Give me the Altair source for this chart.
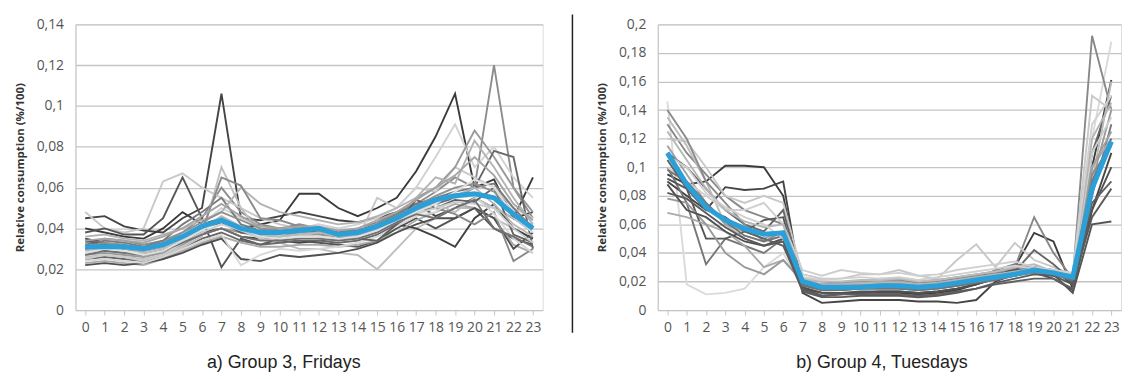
import altair as alt
import pandas as pd

hours = list(range(24))

# ---------------- Panel a) Group 3, Fridays ----------------
a_mean = [0.031, 0.031, 0.031, 0.030, 0.032, 0.036, 0.041, 0.044, 0.040, 0.038, 0.038, 0.039,
          0.040, 0.037, 0.038, 0.041, 0.045, 0.050, 0.054, 0.056, 0.057, 0.055, 0.047, 0.040]

a01 = [0.045, 0.046, 0.041, 0.039, 0.038, 0.045, 0.050, 0.106, 0.045, 0.044, 0.046, 0.048, 0.046, 0.044, 0.043, 0.045, 0.048, 0.052, 0.046, 0.050, 0.055, 0.050, 0.045, 0.048]
a02 = [0.040, 0.038, 0.036, 0.035, 0.040, 0.048, 0.042, 0.045, 0.040, 0.042, 0.044, 0.057, 0.057, 0.050, 0.046, 0.050, 0.055, 0.068, 0.085, 0.106, 0.060, 0.064, 0.045, 0.065]
a03 = [0.033, 0.035, 0.034, 0.032, 0.034, 0.038, 0.045, 0.060, 0.048, 0.042, 0.040, 0.042, 0.040, 0.038, 0.040, 0.043, 0.048, 0.052, 0.058, 0.065, 0.060, 0.120, 0.060, 0.045]
a04 = [0.048, 0.040, 0.038, 0.040, 0.063, 0.067, 0.060, 0.055, 0.050, 0.045, 0.042, 0.040, 0.038, 0.036, 0.035, 0.055, 0.050, 0.060, 0.058, 0.070, 0.065, 0.060, 0.050, 0.045]
a05 = [0.038, 0.040, 0.037, 0.037, 0.045, 0.065, 0.045, 0.021, 0.035, 0.032, 0.035, 0.034, 0.033, 0.032, 0.031, 0.034, 0.040, 0.045, 0.040, 0.045, 0.050, 0.040, 0.035, 0.032]
a06 = [0.028, 0.030, 0.030, 0.028, 0.030, 0.035, 0.040, 0.045, 0.040, 0.036, 0.033, 0.030, 0.030, 0.028, 0.027, 0.020, 0.030, 0.040, 0.045, 0.050, 0.050, 0.045, 0.040, 0.035]
a07 = [0.035, 0.033, 0.030, 0.030, 0.032, 0.035, 0.038, 0.040, 0.036, 0.035, 0.034, 0.033, 0.034, 0.035, 0.036, 0.040, 0.042, 0.040, 0.036, 0.031, 0.045, 0.052, 0.040, 0.035]
a08 = [0.030, 0.032, 0.031, 0.030, 0.033, 0.037, 0.042, 0.050, 0.045, 0.040, 0.038, 0.040, 0.042, 0.040, 0.042, 0.045, 0.050, 0.060, 0.075, 0.091, 0.070, 0.080, 0.065, 0.055]
a09 = [0.027, 0.028, 0.027, 0.026, 0.028, 0.032, 0.037, 0.040, 0.038, 0.036, 0.036, 0.038, 0.037, 0.036, 0.037, 0.040, 0.045, 0.055, 0.060, 0.070, 0.088, 0.075, 0.060, 0.048]
a10 = [0.025, 0.026, 0.025, 0.024, 0.026, 0.030, 0.035, 0.038, 0.034, 0.032, 0.033, 0.034, 0.034, 0.033, 0.034, 0.037, 0.042, 0.048, 0.052, 0.055, 0.060, 0.078, 0.075, 0.030]
a11 = [0.023, 0.024, 0.023, 0.022, 0.025, 0.029, 0.033, 0.036, 0.033, 0.031, 0.031, 0.032, 0.032, 0.031, 0.032, 0.034, 0.038, 0.044, 0.048, 0.052, 0.050, 0.045, 0.032, 0.028]
a12 = [0.032, 0.034, 0.033, 0.031, 0.034, 0.042, 0.048, 0.055, 0.042, 0.039, 0.040, 0.041, 0.040, 0.038, 0.039, 0.042, 0.047, 0.052, 0.055, 0.058, 0.060, 0.062, 0.050, 0.040]
a13 = [0.026, 0.027, 0.026, 0.025, 0.027, 0.031, 0.036, 0.070, 0.050, 0.038, 0.036, 0.037, 0.036, 0.035, 0.036, 0.039, 0.044, 0.050, 0.052, 0.048, 0.055, 0.050, 0.045, 0.038]
a14 = [0.022, 0.023, 0.022, 0.023, 0.025, 0.028, 0.032, 0.035, 0.025, 0.024, 0.027, 0.026, 0.027, 0.028, 0.030, 0.033, 0.038, 0.042, 0.045, 0.045, 0.050, 0.045, 0.030, 0.038]
a15 = [0.036, 0.037, 0.035, 0.034, 0.037, 0.040, 0.044, 0.048, 0.060, 0.052, 0.048, 0.046, 0.044, 0.042, 0.043, 0.046, 0.050, 0.055, 0.065, 0.062, 0.083, 0.070, 0.055, 0.042]
a16 = [0.030, 0.029, 0.028, 0.027, 0.029, 0.034, 0.039, 0.065, 0.061, 0.045, 0.044, 0.041, 0.039, 0.037, 0.038, 0.041, 0.046, 0.049, 0.050, 0.047, 0.042, 0.048, 0.024, 0.030]
a17 = [0.024, 0.025, 0.024, 0.023, 0.026, 0.030, 0.034, 0.037, 0.022, 0.027, 0.030, 0.029, 0.030, 0.031, 0.033, 0.036, 0.041, 0.046, 0.048, 0.055, 0.056, 0.047, 0.035, 0.028]
a18 = [0.034, 0.032, 0.030, 0.029, 0.031, 0.036, 0.040, 0.043, 0.038, 0.037, 0.038, 0.039, 0.038, 0.036, 0.035, 0.034, 0.042, 0.054, 0.050, 0.054, 0.053, 0.060, 0.037, 0.033]
a19 = [0.029, 0.031, 0.030, 0.029, 0.031, 0.035, 0.040, 0.046, 0.041, 0.037, 0.036, 0.037, 0.038, 0.036, 0.037, 0.040, 0.044, 0.049, 0.053, 0.056, 0.060, 0.052, 0.042, 0.036]
a20 = [0.031, 0.033, 0.032, 0.030, 0.033, 0.038, 0.043, 0.048, 0.044, 0.040, 0.039, 0.040, 0.039, 0.037, 0.038, 0.042, 0.046, 0.051, 0.056, 0.060, 0.062, 0.058, 0.048, 0.041]
a21 = [0.025, 0.027, 0.026, 0.024, 0.027, 0.033, 0.038, 0.042, 0.039, 0.035, 0.034, 0.035, 0.035, 0.034, 0.035, 0.038, 0.043, 0.047, 0.050, 0.053, 0.052, 0.050, 0.040, 0.033]
a22 = [0.027, 0.029, 0.028, 0.027, 0.029, 0.033, 0.037, 0.040, 0.036, 0.034, 0.034, 0.035, 0.035, 0.034, 0.035, 0.038, 0.043, 0.047, 0.045, 0.050, 0.054, 0.040, 0.036, 0.031]
a23 = [0.034, 0.035, 0.034, 0.033, 0.036, 0.040, 0.046, 0.052, 0.046, 0.041, 0.040, 0.041, 0.041, 0.039, 0.040, 0.044, 0.048, 0.054, 0.060, 0.066, 0.075, 0.066, 0.052, 0.044]
a24 = [0.028, 0.030, 0.029, 0.027, 0.029, 0.034, 0.039, 0.044, 0.040, 0.036, 0.035, 0.036, 0.036, 0.035, 0.036, 0.039, 0.044, 0.048, 0.052, 0.058, 0.064, 0.060, 0.047, 0.038]

a_lines = [a01, a02, a03, a04, a05, a06, a07, a08, a09, a10, a11, a12,
           a13, a14, a15, a16, a17, a18, a19, a20, a21, a22, a23, a24]
a_colors = ["#444444", "#3a3a3a", "#8c8c8c", "#c8c8c8", "#555555", "#bdbdbd", "#404040", "#d2d2d2",
            "#9a9a9a", "#686868", "#ababab", "#7a7a7a", "#c0c0c0", "#4f4f4f", "#b3b3b3", "#8a8a8a",
            "#d8d8d8", "#606060", "#b8b8b8", "#909090", "#cccccc", "#707070", "#a5a5a5", "#e0e0e0"]

# ---------------- Panel b) Group 4, Tuesdays ----------------
b_mean = [0.110, 0.088, 0.072, 0.063, 0.057, 0.053, 0.054, 0.020, 0.016, 0.016, 0.016, 0.017,
          0.017, 0.016, 0.017, 0.019, 0.021, 0.023, 0.025, 0.028, 0.026, 0.023, 0.085, 0.118]

b01 = [0.146, 0.018, 0.011, 0.012, 0.015, 0.030, 0.040, 0.015, 0.013, 0.014, 0.015, 0.016, 0.016, 0.015, 0.016, 0.018, 0.020, 0.022, 0.025, 0.027, 0.025, 0.022, 0.120, 0.188]
b02 = [0.095, 0.088, 0.090, 0.101, 0.101, 0.100, 0.080, 0.015, 0.010, 0.011, 0.012, 0.012, 0.012, 0.011, 0.012, 0.014, 0.018, 0.022, 0.030, 0.054, 0.048, 0.015, 0.100, 0.161]
b03 = [0.090, 0.080, 0.070, 0.086, 0.084, 0.085, 0.090, 0.012, 0.005, 0.006, 0.007, 0.007, 0.007, 0.006, 0.006, 0.005, 0.007, 0.020, 0.025, 0.030, 0.028, 0.018, 0.070, 0.110]
b04 = [0.130, 0.110, 0.095, 0.080, 0.070, 0.065, 0.060, 0.022, 0.020, 0.019, 0.020, 0.020, 0.021, 0.019, 0.020, 0.022, 0.024, 0.026, 0.030, 0.065, 0.040, 0.022, 0.192, 0.140]
b05 = [0.100, 0.075, 0.032, 0.050, 0.045, 0.040, 0.050, 0.018, 0.016, 0.016, 0.017, 0.017, 0.016, 0.016, 0.017, 0.019, 0.022, 0.028, 0.032, 0.030, 0.026, 0.020, 0.080, 0.130]
b06 = [0.120, 0.118, 0.100, 0.080, 0.075, 0.080, 0.075, 0.025, 0.022, 0.022, 0.025, 0.025, 0.028, 0.024, 0.022, 0.035, 0.046, 0.030, 0.047, 0.035, 0.030, 0.025, 0.150, 0.140]
b07 = [0.092, 0.085, 0.050, 0.050, 0.055, 0.063, 0.065, 0.015, 0.012, 0.012, 0.013, 0.013, 0.013, 0.012, 0.013, 0.015, 0.018, 0.022, 0.028, 0.030, 0.025, 0.012, 0.060, 0.062]
b08 = [0.068, 0.065, 0.060, 0.055, 0.045, 0.030, 0.035, 0.020, 0.018, 0.018, 0.019, 0.020, 0.020, 0.018, 0.019, 0.020, 0.022, 0.024, 0.026, 0.028, 0.026, 0.024, 0.100, 0.120]
b09 = [0.078, 0.075, 0.060, 0.040, 0.030, 0.025, 0.035, 0.020, 0.018, 0.019, 0.020, 0.022, 0.022, 0.020, 0.021, 0.023, 0.025, 0.027, 0.029, 0.030, 0.028, 0.025, 0.090, 0.140]
b10 = [0.110, 0.100, 0.085, 0.070, 0.060, 0.055, 0.070, 0.018, 0.014, 0.014, 0.015, 0.015, 0.015, 0.014, 0.015, 0.017, 0.019, 0.022, 0.027, 0.042, 0.032, 0.020, 0.110, 0.150]
b11 = [0.135, 0.115, 0.090, 0.060, 0.050, 0.045, 0.050, 0.022, 0.020, 0.020, 0.021, 0.021, 0.022, 0.020, 0.021, 0.023, 0.025, 0.027, 0.030, 0.032, 0.027, 0.024, 0.090, 0.160]
b12 = [0.088, 0.070, 0.065, 0.055, 0.048, 0.045, 0.050, 0.016, 0.012, 0.012, 0.012, 0.013, 0.013, 0.012, 0.013, 0.015, 0.018, 0.025, 0.028, 0.026, 0.022, 0.014, 0.070, 0.100]
b13 = [0.115, 0.095, 0.075, 0.060, 0.055, 0.050, 0.055, 0.020, 0.017, 0.017, 0.018, 0.018, 0.019, 0.017, 0.018, 0.020, 0.023, 0.025, 0.026, 0.028, 0.026, 0.024, 0.100, 0.125]
b14 = [0.100, 0.090, 0.080, 0.070, 0.070, 0.075, 0.060, 0.028, 0.024, 0.028, 0.026, 0.025, 0.026, 0.024, 0.025, 0.028, 0.030, 0.032, 0.034, 0.030, 0.028, 0.026, 0.110, 0.135]
b15 = [0.140, 0.120, 0.090, 0.075, 0.060, 0.048, 0.055, 0.019, 0.016, 0.015, 0.016, 0.016, 0.016, 0.015, 0.016, 0.018, 0.020, 0.022, 0.024, 0.026, 0.024, 0.022, 0.095, 0.115]
b16 = [0.105, 0.085, 0.070, 0.065, 0.055, 0.050, 0.045, 0.014, 0.010, 0.011, 0.011, 0.011, 0.011, 0.010, 0.011, 0.013, 0.015, 0.018, 0.020, 0.022, 0.022, 0.015, 0.075, 0.090]
b17 = [0.125, 0.105, 0.085, 0.070, 0.062, 0.058, 0.060, 0.021, 0.018, 0.018, 0.019, 0.019, 0.019, 0.018, 0.019, 0.021, 0.023, 0.025, 0.027, 0.029, 0.027, 0.024, 0.120, 0.145]
b18 = [0.098, 0.090, 0.075, 0.062, 0.052, 0.048, 0.052, 0.017, 0.014, 0.014, 0.015, 0.015, 0.015, 0.014, 0.015, 0.017, 0.019, 0.021, 0.024, 0.027, 0.025, 0.021, 0.090, 0.120]
b19 = [0.108, 0.100, 0.082, 0.072, 0.065, 0.060, 0.050, 0.023, 0.021, 0.022, 0.023, 0.022, 0.023, 0.021, 0.023, 0.025, 0.027, 0.029, 0.031, 0.029, 0.027, 0.026, 0.130, 0.150]
b20 = [0.082, 0.078, 0.068, 0.058, 0.050, 0.045, 0.048, 0.013, 0.009, 0.009, 0.010, 0.010, 0.010, 0.009, 0.010, 0.012, 0.015, 0.019, 0.022, 0.025, 0.024, 0.018, 0.065, 0.085]

b_lines = [b01, b02, b03, b04, b05, b06, b07, b08, b09, b10,
           b11, b12, b13, b14, b15, b16, b17, b18, b19, b20]
b_colors = ["#dadada", "#3c3c3c", "#454545", "#888888", "#777777", "#c8c8c8", "#555555", "#aaaaaa",
            "#999999", "#666666", "#bbbbbb", "#505050", "#a0a0a0", "#cfcfcf", "#8a8a8a", "#606060",
            "#b5b5b5", "#737373", "#d0d0d0", "#5a5a5a"]

a_ticks = [0, 0.02, 0.04, 0.06, 0.08, 0.1, 0.12, 0.14]
b_ticks = [0, 0.02, 0.04, 0.06, 0.08, 0.1, 0.12, 0.14, 0.16, 0.18, 0.2]

BLUE = "#2b9fd8"
FONT = "Open Sans"


def long_df(lines, prefix):
    rows = []
    for i, vals in enumerate(lines):
        for h, v in zip(hours, vals):
            rows.append({"series": f"{prefix}{i:02d}", "hour": h, "value": v})
    return pd.DataFrame(rows)


def panel(lines, colors, mean_vals, prefix, yticks, width, caption, cap_x, sep=False):
    df = long_df(lines, prefix)
    names = [f"{prefix}{i:02d}" for i in range(len(lines))]
    mdf = pd.DataFrame({"hour": hours, "value": mean_vals})
    ymax = yticks[-1]

    xenc = alt.X("hour:O", scale=alt.Scale(type="point", padding=0.5, domain=hours),
                 axis=alt.Axis(title=None, labelAngle=0, labelFontSize=14, labelColor="#555555",
                               labelFont=FONT, domainColor="#c4c4c4", tickColor="#c4c4c4",
                               tickSize=5, labelPadding=6, grid=False, labelOverlap=False))
    yenc = alt.Y("value:Q", scale=alt.Scale(domain=[0, ymax], nice=False),
                 axis=alt.Axis(title="Relative consumption (%/100)", values=yticks,
                               labelExpr="replace(format(datum.value, '.2~f'), '.', ',')",
                               labelFontSize=14, labelColor="#555555", labelFont=FONT,
                               labelOverlap=False,
                               titleFont=FONT, titleFontSize=11.5, titleFontWeight="bold",
                               titleColor="#333333", titlePadding=11, labelPadding=12,
                               ticks=False, domainColor="#c4c4c4", gridColor="#c4c4c4",
                               gridWidth=1.3))

    grey = alt.Chart(df).mark_line(strokeWidth=1.9).encode(
        x=xenc, y=yenc,
        color=alt.Color("series:N", scale=alt.Scale(domain=names, range=colors), legend=None),
        detail="series:N",
    )
    mean = alt.Chart(mdf).mark_line(color=BLUE, strokeWidth=5).encode(x=xenc, y=yenc)
    cap = alt.Chart(pd.DataFrame({"t": [caption]})).mark_text(
        font="Liberation Sans", fontSize=18, color="#222222", align="center", baseline="middle"
    ).encode(x=alt.value(cap_x), y=alt.value(341), text="t:N")
    layers = [grey, mean, cap]
    if sep:
        rule = alt.Chart(pd.DataFrame({"k": [0]})).mark_rule(color="#222222", strokeWidth=1.5).encode(
            x=alt.value(-86), y=alt.value(-10), y2=alt.value(311))
        layers.append(rule)
    return alt.layer(*layers).properties(width=width, height=288)


pa = panel(a_lines, a_colors, a_mean, "a", a_ticks, 471, "a) Group 3, Fridays", 210)
pb = panel(b_lines, b_colors, b_mean, "b", b_ticks, 467, "b) Group 4, Tuesdays", 226, sep=True)

chart = alt.hconcat(pa, pb, spacing=27).resolve_scale(y="independent", color="independent").properties(
    padding={"left": 5, "top": 3, "right": 0, "bottom": 0}
).configure_view(stroke=None).configure(background="white")

chart.save("out.html", embed_options={"renderer": "svg", "actions": False})
